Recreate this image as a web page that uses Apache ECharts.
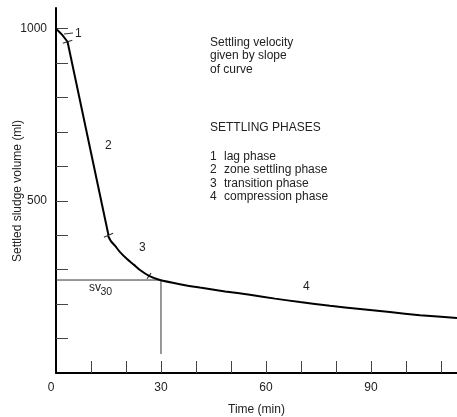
<!DOCTYPE html>
<html><head><meta charset="utf-8">
<script src="https://cdn.jsdelivr.net/npm/echarts@6/dist/echarts.min.js"></script>
<style>html,body{margin:0;padding:0;background:#fff}#c{width:457px;height:417px}</style>
</head><body><div id="c"></div>
<script>
// ---- data ----
const phase1 = [[0,1000],[1.6,984],[3.3,962]];
const phase2 = [[3.3,962],[15,400]];
const phase34 = [[14.9,398],[15.7,383],[16.9,369],[18.3,351],[20.3,331],[22.3,314],[24,299],[26.6,282],[29.7,270],
  [35.4,258],[41.1,248],[48.3,237],[55.4,227],[62.6,216],[69.7,206],[78.3,195],[86.9,186],[95.4,177],[104,168],[114.6,160]];
const phaseBoundaries = [[3.3,962],[15,400],[26.6,282]];
const sv30Guide = [[0,270],[30,270],[30,55]];
const xLabelValues = [0,30,60,90];
const xTickValues = [10,20,30,40,50,60,70,80,90,100,110];
const yLabelValues = [500,1000];
const yTickValues = [100,200,300,400,500,600,700,800,900,1000];
const noteLines = ['Settling velocity','given by slope','of curve'];
const phasesTitle = 'SETTLING PHASES';
const phaseNums = ['1','2','3','4'];
const phaseNames = ['lag phase','zone settling phase','transition phase','compression phase'];
const xName = 'Time (min)';
const yName = 'Settled sludge volume (ml)';

// ---- styles ----
const FONT = "'Liberation Sans', Arial, Helvetica, sans-serif";
const TXT = '#222';
const tickAngles = [18, 24, 55];
const tickLens = [10, 10, 7];

const chart = echarts.init(document.getElementById('c'), null, {renderer:'canvas'});

function txt(text, x, y, size, align, rot) {
  return {type:'text', x:x, y:y, rotation:rot||0, silent:true,
    style:{text:text, fill:TXT, font: (size||12)+'px '+FONT, align: align||'left', verticalAlign:'middle'}};
}

const graphics = [];
const noteY = [43, 56, 69.5];
noteLines.forEach((t,i)=>graphics.push(txt(t, 210, noteY[i])));
graphics.push(txt(phasesTitle, 210, 128));
const listY = [157, 169.5, 184, 196.5];
phaseNums.forEach((n,i)=>{
  graphics.push(txt(n, 210, listY[i]));
  graphics.push(txt(phaseNames[i], 224, listY[i]));
});
// phase labels on curve
const phaseLabelPos = [[75,34],[105,146],[139,248],[303,287]];
phaseNums.forEach((n,i)=>graphics.push(txt(n, phaseLabelPos[i][0], phaseLabelPos[i][1])));
// leader for phase 1
graphics.push({type:'line', silent:true, shape:{x1:64,y1:34,x2:73,y2:33}, style:{stroke:'#333', lineWidth:1}});
// sv30 label
graphics.push(txt('sv', 89, 288));
graphics.push(txt('30', 100.5, 292, 10.5));
// y axis title
graphics.push(txt(yName, 18, 191, 12, 'center', Math.PI/2));

chart.setOption({
  animation:false,
  backgroundColor:'#fff',
  textStyle:{fontFamily:FONT},
  grid:{left:56, right:0, top:8, bottom:44, containLabel:false, outerBoundsMode:'none'},
  xAxis:{
    type:'value', min:0, max:114.6,
    name:xName, nameLocation:'middle', nameGap:31, nameMoveOverlap:false,
    nameTextStyle:{color:TXT, fontSize:12, fontFamily:FONT},
    axisLine:{show:true, onZero:false, lineStyle:{color:'#000', width:2}},
    axisTick:{show:true, inside:true, length:12, customValues:xTickValues, lineStyle:{color:'#444', width:1}},
    axisLabel:{show:true, customValues:xLabelValues, margin:9, color:TXT, fontSize:12, fontFamily:FONT,
      formatter:v=> v===0 ? '{z|0}' : String(v),
      rich:{z:{padding:[0,10,0,0], fontSize:12, color:TXT, fontFamily:FONT}}},
    splitLine:{show:false}
  },
  yAxis:{
    type:'value', min:0, max:1060,
    axisLine:{show:true, onZero:false, lineStyle:{color:'#000', width:2}},
    axisTick:{show:true, inside:true, length:12, customValues:yTickValues, lineStyle:{color:'#444', width:1}},
    axisLabel:{show:true, customValues:yLabelValues, margin:9, color:TXT, fontSize:12, fontFamily:FONT,
      formatter:v=>String(v)},
    splitLine:{show:false}
  },
  series:[
    {type:'line', data:sv30Guide, showSymbol:false, symbol:'none', z:1,
      lineStyle:{color:'#333', width:1}},
    {type:'line', data:phase1, symbol:'none', z:3, lineStyle:{color:'#000', width:2}},
    {type:'line', data:phase2, symbol:'none', z:3, lineStyle:{color:'#000', width:2}},
    {type:'line', data:phase34, symbol:'none', smooth:0.2, z:3, lineStyle:{color:'#000', width:2}},
    {type:'scatter', z:4, silent:true,
      data: phaseBoundaries.map((p,i)=>({value:p, symbolRotate:tickAngles[i], symbolSize:[tickLens[i],1.2]})),
      symbol:'rect', itemStyle:{color:'#000'}}
  ],
  graphic: graphics
});
</script></body></html>
